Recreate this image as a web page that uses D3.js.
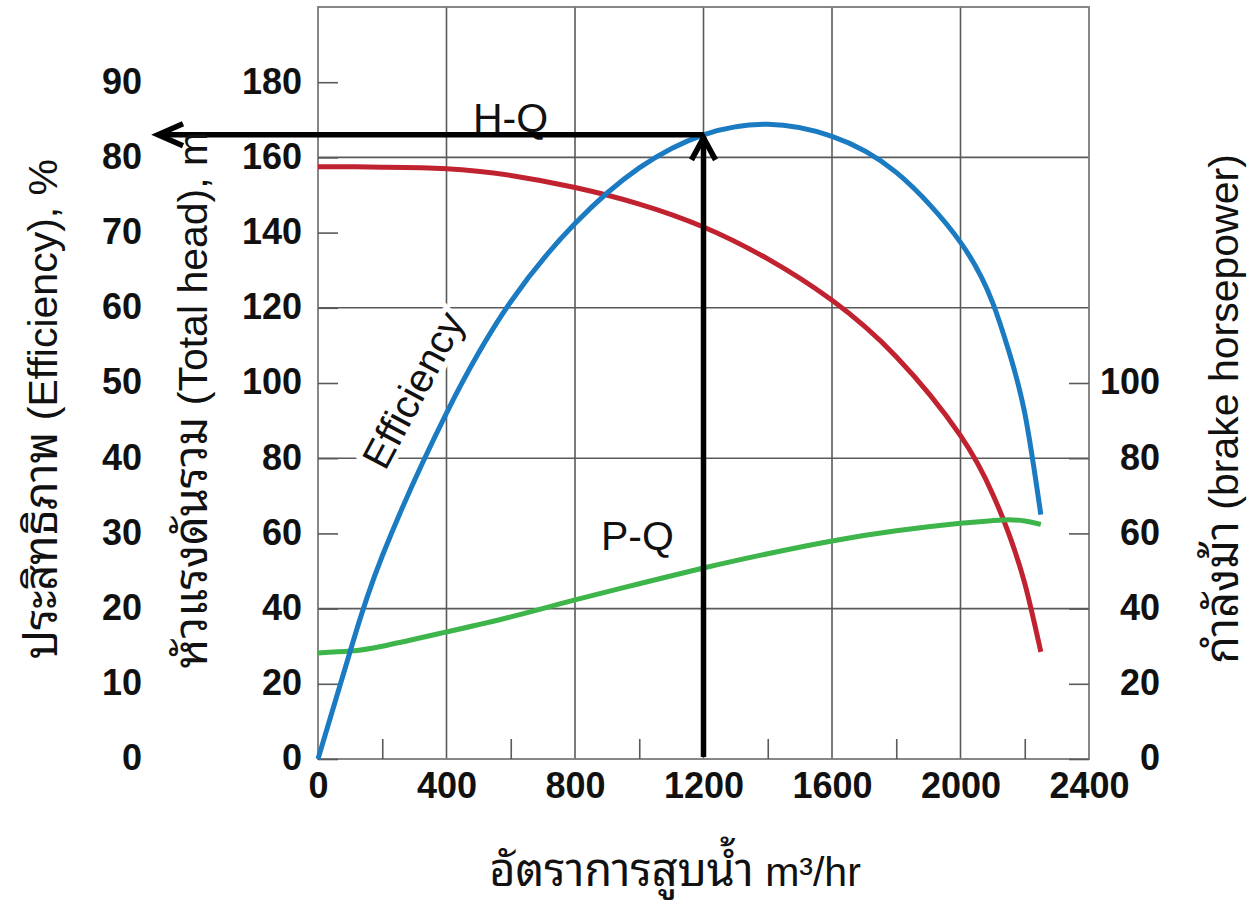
<!DOCTYPE html>
<html>
<head>
<meta charset="utf-8">
<script src="https://cdn.jsdelivr.net/npm/d3@7"></script>
<style>
  html, body { margin: 0; padding: 0; background: #fff; }
  svg { display: block; }
  .tick-num { font-family: "Liberation Sans", Arial, sans-serif; font-weight: bold; font-size: 36px; fill: #111; }
  .title { font-family: "Liberation Sans", Arial, sans-serif; font-size: 41px; fill: #111; }
  .thai { font-family: "Noto Sans Thai Looped", "Loma", "Garuda", "Tahoma", "Noto Sans Thai", sans-serif; font-size: 45px; }
  .note { font-family: "Liberation Sans", Arial, sans-serif; font-size: 41px; fill: #111; }
</style>
</head>
<body>
<svg id="chart" width="1253" height="902"></svg>
<script>
// Pump performance curves: flow rate (m3/hr) against head, efficiency and brake horsepower
const flowQ      = [0, 100, 200, 400, 600, 800, 1000, 1200, 1400, 1600, 1800, 2000, 2100, 2150, 2200, 2250];
const headHQ     = [157.5, 157.5, 157.4, 157, 155.2, 152, 147.6, 141.5, 133, 122, 107, 86, 70.5, 60, 46.7, 28.5];
const efficiency = [0, 14.3, 27, 46, 60.8, 71.2, 78.6, 83, 84.4, 82.8, 78, 68.7, 60.7, 54.3, 46, 32.5];
const powerPQ    = [28.2, 28.7, 30.0, 33.8, 37.8, 42.3, 46.6, 50.8, 54.6, 58, 60.7, 62.7, 63.4, 63.6, 63.3, 62.4];

const flowTicks  = [0, 400, 800, 1200, 1600, 2000, 2400];
const flowMinor  = [200, 600, 1000, 1400, 1800, 2200];
const headTicks  = [0, 20, 40, 60, 80, 100, 120, 140, 160, 180];
const headGrid   = [40, 80, 120, 160];
const effTicks   = [0, 10, 20, 30, 40, 50, 60, 70, 80, 90];
const powerTicks = [0, 20, 40, 60, 80, 100];

const operatingQ = 1200;

const svg = d3.select("#chart");
const L = 318, R = 1089, T = 7, B = 759;

const x = d3.scaleLinear().domain([0, 2400]).range([L, R]);
const yHead = d3.scaleLinear().domain([0, 200]).range([B, T]);
const yEff = d3.scaleLinear().domain([0, 100]).range([B, T]);
const yPow = d3.scaleLinear().domain([0, 200]).range([B, T]);

const gridColor = "#5a5a5a";

// grid
const grid = svg.append("g");
grid.selectAll(".vg").data(flowTicks.slice(1, -1)).join("line")
  .attr("x1", d => x(d)).attr("x2", d => x(d)).attr("y1", T).attr("y2", B)
  .attr("stroke", gridColor).attr("stroke-width", 1.6);
grid.selectAll(".hg").data(headGrid).join("line")
  .attr("x1", L).attr("x2", R).attr("y1", d => yHead(d)).attr("y2", d => yHead(d))
  .attr("stroke", gridColor).attr("stroke-width", 1.6);

// frame
svg.append("rect").attr("x", L).attr("y", T).attr("width", R - L).attr("height", B - T)
  .attr("fill", "none").attr("stroke", "#7a7a7a").attr("stroke-width", 1.8);

function styleAxis(g) {
  g.select(".domain").remove();
  g.selectAll(".tick line").attr("stroke", gridColor).attr("stroke-width", 1.6);
  g.selectAll(".tick text").attr("class", "tick-num").attr("fill", null);
  g.attr("font-family", null).attr("font-size", null);
}

// bottom flow axis
svg.append("g").attr("transform", `translate(0,${B})`)
  .call(d3.axisBottom(x).tickValues(flowTicks).tickSize(0).tickPadding(13).tickFormat(d3.format("d")))
  .call(styleAxis);
svg.append("g").attr("transform", `translate(0,${B})`)
  .call(d3.axisBottom(x).tickValues(flowMinor).tickSize(-20).tickFormat(""))
  .call(styleAxis);

// head axis
svg.append("g").attr("transform", `translate(${L},0)`)
  .call(d3.axisLeft(yHead).tickValues(headTicks).tickSize(-20).tickPadding(16))
  .call(styleAxis)
  .selectAll(".tick text").attr("dy", "0.3em");

// efficiency axis (labels only)
svg.append("g").attr("transform", `translate(142,0)`)
  .call(d3.axisLeft(yEff).tickValues(effTicks).tickSize(0).tickPadding(0))
  .call(styleAxis)
  .selectAll(".tick text").attr("dy", "0.3em");

// brake horsepower axis
const pAx = svg.append("g").attr("transform", `translate(${R},0)`)
  .call(d3.axisRight(yPow).tickValues(powerTicks).tickSize(-20).tickPadding(0))
  .call(styleAxis);
pAx.selectAll(".tick text").attr("text-anchor", "end").attr("x", 71).attr("dy", "0.3em");

// curve label with white halo
svg.append("text").attr("class", "note")
  .attr("transform", "translate(413,390) rotate(-62)")
  .attr("text-anchor", "middle").attr("dy", "0.35em").style("font-size", "40px")
  .attr("stroke", "#fff").attr("stroke-width", 10).attr("paint-order", "stroke")
  .text("Efficiency");

// curves
const line = ys => d3.line().x((d, i) => x(flowQ[i])).y(d => ys(d)).curve(d3.curveNatural);
svg.append("path").datum(headHQ).attr("d", line(yHead))
  .attr("fill", "none").attr("stroke", "#c1222f").attr("stroke-width", 5);
svg.append("path").datum(powerPQ).attr("d", line(yPow))
  .attr("fill", "none").attr("stroke", "#3db54a").attr("stroke-width", 5);
svg.append("path").datum(efficiency).attr("d", line(yEff))
  .attr("fill", "none").attr("stroke", "#1b7bc2").attr("stroke-width", 5);

// curve names
svg.append("text").attr("class", "note").attr("x", 473).attr("y", 132).text("H-Q");
svg.append("text").attr("class", "note").attr("x", 601).attr("y", 550).text("P-Q");

// operating point arrows
const opEff = efficiency[flowQ.indexOf(operatingQ)];
const ax = x(operatingQ), ay = yEff(opEff), arrowEndX = 156;
const arrows = svg.append("g").attr("stroke", "#000").attr("stroke-width", 5.5).attr("fill", "none")
  .attr("stroke-linecap", "butt").attr("stroke-linejoin", "miter");
arrows.append("line").attr("x1", ax).attr("x2", ax).attr("y1", B - 2).attr("y2", ay + 2);
arrows.append("polyline").attr("points", `${ax - 12},${ay + 25} ${ax},${ay + 3} ${ax + 12},${ay + 25}`);
arrows.append("line").attr("x1", ax).attr("x2", arrowEndX + 3).attr("y1", ay).attr("y2", ay);
arrows.append("polyline").attr("points", `${arrowEndX + 27},${ay - 11} ${arrowEndX + 2},${ay} ${arrowEndX + 27},${ay + 11}`);

// axis titles: Thai words in their own tspan
function title(transform, thai, latin) {
  const t = svg.append("text").attr("class", "title").attr("text-anchor", "middle")
    .attr("transform", transform);
  t.append("tspan").attr("class", "thai").text(thai);
  t.append("tspan").text(latin);
  return t;
}
title("translate(57,409) rotate(-90)", "ประสิทธิภาพ", " (Efficiency), %");
title("translate(207,400) rotate(-90)", "หัวแรงดันรวม", " (Total head), m");
title("translate(1238,409) rotate(-90)", "กำลังม้า", " (brake horsepower)");
title("translate(675,886)", "อัตราการสูบน้ำ", " m³/hr");
</script>
</body>
</html>
